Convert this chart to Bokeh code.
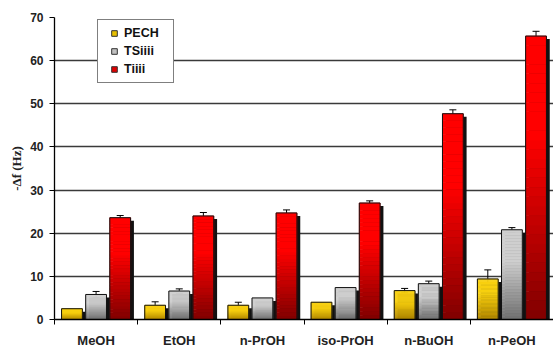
import numpy as np
from bokeh.plotting import figure
from bokeh.models import (ColumnDataSource, Range1d, FixedTicker, Whisker, TeeHead,
                          Legend, LegendItem)
from bokeh.embed import file_html
from bokeh.resources import INLINE

# ---- data ----
cats = ["MeOH", "EtOH", "n-PrOH", "iso-PrOH", "n-BuOH", "n-PeOH"]
series = ["PECH", "TSiiii", "Tiiii"]
pech = [2.5, 3.3, 3.3, 4.0, 6.7, 9.4]
pech_err = [0.0, 0.8, 0.7, 0.0, 0.5, 2.1]
tsiiii = [5.8, 6.6, 5.0, 7.4, 8.3, 20.8]
tsiiii_err = [0.7, 0.5, 0.0, 0.0, 0.6, 0.5]
tiiii = [23.6, 24.0, 24.7, 27.0, 47.7, 65.7]
tiiii_err = [0.5, 0.8, 0.7, 0.5, 0.9, 1.1]
y_ticks = [0, 10, 20, 30, 40, 50, 60, 70]

# ---- styles ----
offsets = [-0.29, 0.0, 0.29]
bar_w = 0.25
grads = [((0xB0, 0x86, 0x00), (0xF8, 0xD0, 0x10)),
         ((0x70, 0x70, 0x70), (0xCF, 0xCF, 0xCF)),
         ((0x80, 0x00, 0x00), (0xFF, 0x00, 0x00))]
legend_cols = ["#E8C000", "#C0C0C0", "#E00000"]

p = figure(width=553, height=350, output_backend="svg", toolbar_location=None,
           x_range=Range1d(0, len(cats)), y_range=Range1d(0, 70),
           min_border_left=54, min_border_right=0, min_border_top=17,
           min_border_bottom=30)
p.outline_line_color = None
p.background_fill_color = "white"
p.border_fill_color = "white"

def hexcol(c):
    return "#%02x%02x%02x" % tuple(int(round(v)) for v in c)

N = 30
base_x = np.arange(len(cats)) + 0.5
for si, (vals, errs) in enumerate([(pech, pech_err), (tsiiii, tsiiii_err), (tiiii, tiiii_err)]):
    xs = base_x + offsets[si]
    vals = np.array(vals, dtype=float)
    p.vbar(x=xs + 0.04, top=vals - 0.7, bottom=0, width=bar_w,
           fill_color="#111111", line_color=None)
    sx, sb, st, sc = [], [], [], []
    lo, hi = grads[si]
    for i, v in enumerate(vals):
        for k in range(N):
            f = (k + 0.5) / N
            t = min(1.0, f / 0.65)
            c = tuple(lo[j] + (hi[j] - lo[j]) * t for j in range(3))
            sx.append(xs[i]); sb.append(v * k / N); st.append(v * (k + 1) / N)
            sc.append(hexcol(c))
    p.vbar(x=sx, bottom=sb, top=st, width=bar_w, fill_color=sc, line_color=sc,
           line_width=0.6)
    p.vbar(x=xs, top=vals, bottom=0, width=bar_w, fill_color=None,
           line_color="#111111", line_width=1)
    errs = np.array(errs, dtype=float)
    m = errs > 0
    esrc = ColumnDataSource(dict(x=xs[m], up=(vals + errs)[m], lo=(vals - errs)[m]))
    p.add_layout(Whisker(source=esrc, base="x", upper="up", lower="lo",
                         dimension="height", line_color="black", line_width=1,
                         upper_head=TeeHead(size=7, line_color="black", line_width=1),
                         lower_head=TeeHead(size=7, line_color="black", line_width=1)))

items = []
for si, name in enumerate(series):
    r = p.scatter(x=[np.nan], y=[np.nan], marker="square", size=6,
                  fill_color=legend_cols[si], line_color="#333333", line_width=1)
    items.append(LegendItem(label=name, renderers=[r]))
leg = Legend(items=items, location=(43, 236), border_line_color="black",
             border_line_width=1, background_fill_color="white",
             background_fill_alpha=1.0,
             label_text_font="Liberation Sans", label_text_font_style="bold",
             label_text_font_size="12.5px", label_text_color="#111111",
             glyph_width=20, glyph_height=14, label_height=14, label_width=43,
             label_standoff=0, spacing=4, padding=6, margin=0)
p.add_layout(leg)

p.xaxis.ticker = FixedTicker(ticks=list(base_x), minor_ticks=list(range(len(cats) + 1)))
p.xaxis.major_label_overrides = {float(x): c for x, c in zip(base_x, cats)}
p.xaxis.major_tick_line_color = None
p.xaxis.minor_tick_out = 5
p.xaxis.minor_tick_in = 0
p.xaxis.minor_tick_line_color = "black"
p.xaxis.axis_line_color = "black"
p.xaxis.axis_line_width = 1.3
p.xaxis.major_label_text_font = "Liberation Sans"
p.xaxis.major_label_text_font_style = "bold"
p.xaxis.major_label_text_font_size = "13px"
p.xaxis.major_label_text_color = "#222222"
p.xaxis.major_label_standoff = 7

p.yaxis.ticker = FixedTicker(ticks=y_ticks)
p.yaxis.minor_tick_line_color = None
p.yaxis.major_tick_out = 5
p.yaxis.major_tick_in = 0
p.yaxis.axis_line_color = "black"
p.yaxis.axis_line_width = 1.3
p.yaxis.major_label_text_font = "Liberation Sans"
p.yaxis.major_label_text_font_style = "bold"
p.yaxis.major_label_text_font_size = "12px"
p.yaxis.major_label_text_color = "#222222"
p.yaxis.major_label_standoff = 6
p.yaxis.axis_label = "-\u0394f (Hz)"
p.yaxis.axis_label_text_font = "Liberation Serif"
p.yaxis.axis_label_text_font_style = "bold"
p.yaxis.axis_label_text_font_size = "13px"
p.yaxis.axis_label_text_color = "#222222"
p.yaxis.axis_label_standoff = 3

p.xgrid.grid_line_color = None
p.ygrid.ticker = FixedTicker(ticks=y_ticks)
p.ygrid.grid_line_color = "#3a3a3a"
p.ygrid.grid_line_width = 1.3

open("out.html", "w").write(file_html(p, INLINE))
